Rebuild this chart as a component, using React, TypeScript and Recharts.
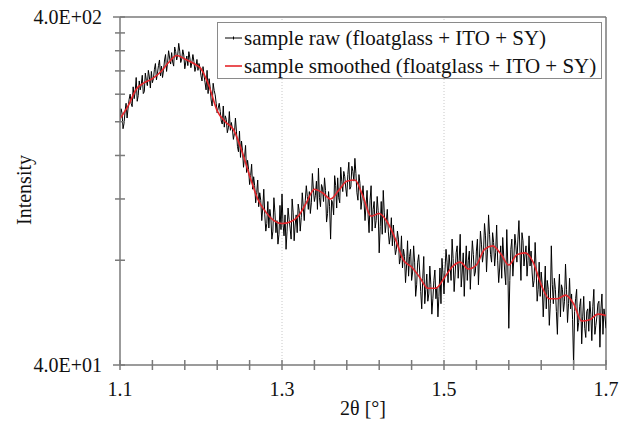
import React from 'react';
import { LineChart, Line, XAxis, YAxis, ReferenceLine, Label } from 'recharts';

// 2θ sampling grid of the measurement
const RAW_START = 1.1;
const RAW_STEP = 0.00125;
// raw intensity (floatglass + ITO + SY), one value per RAW_STEP
const rawIntensity = [
  200, 218, 212, 191, 198, 214, 226, 205, 219, 232,
  240, 226, 221, 252, 233, 244, 268, 229, 238, 262,
  247, 256, 272, 241, 244, 276, 263, 254, 281, 269,
  250, 279, 259, 266, 283, 294, 264, 276, 290, 301,
  271, 289, 268, 281, 301, 312, 279, 296, 320, 305,
  293, 316, 297, 289, 328, 318, 301, 311, 336, 319,
  296, 303, 322, 311, 284, 297, 309, 290, 318, 305,
  286, 296, 312, 298, 279, 288, 302, 281, 294, 286,
  271,
  262, 288, 272, 259, 247, 281, 241, 266, 252, 231,
  222, 258, 246, 239, 226, 212, 219, 226, 214, 201,
  197, 222, 193, 208, 203, 186, 192, 214, 189, 199,
  191, 178, 185, 205, 188, 170, 164, 188, 158, 176,
  165, 148, 158, 171, 143, 155, 146, 132, 140, 151,
  128, 139, 131, 117, 125, 136, 114, 125, 119, 104,
  113, 128, 108, 97, 102, 118, 99, 112, 106, 92,
  97, 121, 110, 96, 104, 89, 95, 115, 98, 124,
  102, 94, 108, 86, 97, 113, 105, 99, 92, 120,
  110, 91, 101, 108, 96, 116, 111, 97, 106, 125,
  114, 104, 119, 131, 122, 112, 126, 109, 117, 142,
  128, 118, 123, 135, 112, 147, 121, 114, 132, 129,
  118, 138, 127, 103, 109, 126, 114, 92, 119, 117,
  108, 140, 131, 113, 138, 121, 117, 148, 135, 126,
  144, 139, 129, 122, 141, 153, 128, 130, 149, 144,
  135, 157, 142, 125, 119, 141, 133, 112, 120, 131,
  118, 104, 115, 127, 108, 96, 119, 131, 97, 112,
  118, 99, 104, 122, 111, 84, 100, 118, 95, 127,
  110, 96, 103, 112, 97, 89, 94, 106, 88, 101,
  91, 83, 86, 97, 92, 78, 81, 94, 76, 86,
  82, 69, 77, 91, 72, 82, 86, 70, 74, 88,
  79, 63, 68, 79, 83, 74, 65, 58, 71, 82,
  60, 66, 73, 61, 64, 77, 68, 56, 62, 70,
  75, 62, 67, 55, 63, 76, 60, 81, 73, 64,
  75, 86, 79, 69, 83, 77, 70, 92, 81, 65,
  73, 84, 88, 71, 80, 95, 67, 74, 84, 63,
  76, 88, 70, 80, 85, 66, 78, 91, 83, 72,
  74, 85, 92, 68, 81, 97, 89, 79, 84, 102,
  94, 74, 86, 108, 95, 83, 79, 96, 90, 77,
  84, 101, 80, 69, 76, 88, 71, 93, 82, 74,
  68, 98, 78, 51, 70, 86, 92, 72, 81, 95,
  88, 79, 92, 104, 85, 70, 96, 91, 77, 83,
  88, 72, 80, 94, 77, 85, 74, 67, 70, 90,
  76, 61, 66, 79, 63, 74, 68, 55, 64, 77,
  58, 70, 66, 52, 60, 88, 68, 60, 71, 66,
  57, 49, 64, 73, 55, 68, 66, 57, 61, 78,
  66, 53, 60, 71, 58, 64, 54, 40, 57, 62,
  66, 50, 53, 59, 62, 46, 55, 63, 51, 48,
  57, 58, 50, 61, 56, 47, 59, 66, 49, 52,
  55, 60, 61, 45, 58, 64, 49, 58, 55, 51,
];

// smoothed intensity, one value every 0.01 (every 8th raw sample)
const SMOOTH_EVERY = 8;
const smoothedIntensity = [
  204, 222, 248, 259, 266, 278, 296, 310, 303, 295,
  284, 253, 215, 200, 190, 166, 140, 120, 110, 104,
  102, 103, 107, 117, 128, 125, 120, 127, 135, 136,
  122, 107, 109, 103, 92, 80, 76.5, 71.5, 66.5, 66.5,
  71, 76.5, 79, 75.5, 77.5, 86, 88, 83.5, 77.5, 83,
  84, 79, 68, 62, 62, 63.5, 60, 53.5, 54, 56, 55.5,
];

const xTicks = [1.1, 1.14, 1.18, 1.22, 1.26, 1.3, 1.34, 1.38, 1.42, 1.46, 1.5, 1.54, 1.58, 1.62, 1.66, 1.7];
const xLabelled = [1.1, 1.3, 1.5, 1.7];
const xGrid = [1.3, 1.5];
const yTicks = [40, 80, 120, 160, 200, 240, 280, 320, 360, 400];
const yLabelled: [number, string][] = [[40, '4.0E+01'], [400, '4.0E+02']];

const rawName = 'sample raw (floatglass + ITO + SY)';
const smoothName = 'sample smoothed (floatglass + ITO + SY)';

const data = rawIntensity.map((v, i) => {
  const row: { x: number; raw: number; smooth?: number } = {
    x: Math.round((RAW_START + i * RAW_STEP) * 100000) / 100000,
    raw: v,
  };
  if (i % SMOOTH_EVERY === 0) row.smooth = smoothedIntensity[i / SMOOTH_EVERY];
  return row;
});

const AXIS = '#7a7a7a';
const FONT = 'Liberation Serif, Tinos, DejaVu Serif, Noto Serif, FreeSerif, Times New Roman, serif';

const XTick = (props: any) => {
  const { x, y, payload } = props;
  const lab = xLabelled.find((v) => Math.abs(v - payload.value) < 1e-9);
  return (
    <g>
      <line x1={x} x2={x} y1={y - 5} y2={y + 5} stroke={AXIS} strokeWidth={1.5} />
      {lab !== undefined && (
        <text x={x} y={y + 31} textAnchor="middle" fontFamily={FONT} fontSize={20} fill="#111">
          {String(lab)}
        </text>
      )}
    </g>
  );
};

const YTick = (props: any) => {
  const { x, y, payload } = props;
  const lab = yLabelled.find((p) => Math.abs(p[0] - payload.value) < 1e-6);
  return (
    <g>
      <line x1={lab ? x - 7 : x - 5} x2={x + 5} y1={y} y2={y} stroke={AXIS} strokeWidth={1.5} />
      {lab && (
        <text x={x - 18} y={y} dy="0.35em" textAnchor="end" fontFamily={FONT} fontSize={20} fill="#111">
          {lab[1]}
        </text>
      )}
    </g>
  );
};

export default function App() {
  return (
    <div style={{ position: 'fixed', left: 0, top: 0, width: 619, height: 422, background: '#fff' }}>
      <LineChart width={619} height={422} data={data} margin={{ top: 17, right: 13, bottom: 0, left: 0 }}>
        <XAxis
          dataKey="x"
          type="number"
          domain={[1.1, 1.7]}
          ticks={xTicks}
          interval={0}
          allowDataOverflow
          height={57}
          tickSize={0}
          tickMargin={0}
          tickLine={false}
          axisLine={{ stroke: AXIS, strokeWidth: 1.5 }}
          tick={<XTick />}
        >
          <Label
            content={() => (
              <text x={363} y={415} textAnchor="middle" fontFamily={FONT} fontSize={20} fill="#111">
                2θ [°]
              </text>
            )}
          />
        </XAxis>
        <YAxis
          type="number"
          scale="log"
          domain={[40, 400]}
          ticks={yTicks}
          interval={0}
          allowDataOverflow
          width={120}
          tickSize={0}
          tickMargin={0}
          tickLine={false}
          axisLine={{ stroke: AXIS, strokeWidth: 1.5 }}
          tick={<YTick />}
        >
          <Label
            content={() => (
              <text
                x={31}
                y={190}
                transform="rotate(-90, 31, 190)"
                textAnchor="middle"
                fontFamily={FONT}
                fontSize={20}
                fill="#111"
              >
                Intensity
              </text>
            )}
          />
        </YAxis>
        {xGrid.map((g) => (
          <ReferenceLine key={g} x={g} stroke="#c8c8c8" strokeDasharray="1 2" />
        ))}
        <ReferenceLine y={400} stroke={AXIS} strokeWidth={1.5} />
        <ReferenceLine x={1.7} stroke={AXIS} strokeWidth={1.5} />
        <Line
          dataKey="raw"
          name={rawName}
          type="linear"
          stroke="#000"
          strokeWidth={1}
          dot={false}
          isAnimationActive={false}
        />
        <Line
          dataKey="smooth"
          name={smoothName}
          type="monotone"
          stroke="#e5262b"
          strokeWidth={1.6}
          dot={false}
          connectNulls
          isAnimationActive={false}
        />
      </LineChart>
      <div
        style={{
          position: 'absolute',
          left: 217,
          top: 22,
          width: 385,
          height: 57,
          boxSizing: 'border-box',
          border: '1px solid #8a8a8a',
          background: '#fff',
          fontFamily: FONT,
          fontSize: 21,
          color: '#111',
        }}
      >
        {[
          { name: rawName, color: '#000', tick: true },
          { name: smoothName, color: '#e5262b', tick: false },
        ].map((r, i) => (
          <div
            key={r.name}
            style={{
              position: 'absolute',
              left: 7,
              top: 1 + i * 28,
              height: 28,
              lineHeight: '28px',
              display: 'flex',
              alignItems: 'center',
              whiteSpace: 'nowrap',
            }}
          >
            <svg width={18} height={10} style={{ marginRight: 1 }}>
              <line x1={0} x2={17} y1={5} y2={5} stroke={r.color} strokeWidth={r.tick ? 1 : 1.6} />
              {r.tick && <line x1={8.5} x2={8.5} y1={3.5} y2={6.5} stroke={r.color} strokeWidth={1} />}
            </svg>
            <span>{r.name}</span>
          </div>
        ))}
      </div>
    </div>
  );
}
